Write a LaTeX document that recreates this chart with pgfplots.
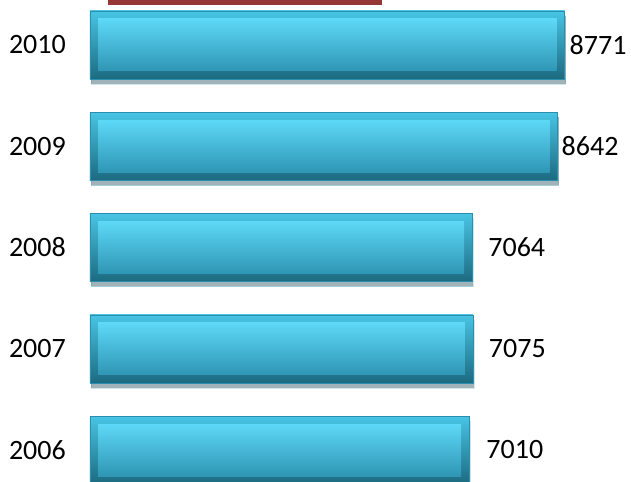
\documentclass[border=0pt]{standalone}
\usepackage{pgfplots}
\pgfplotsset{compat=1.18}
\usepackage{pgfplotstable}
\usepackage{fontspec}
\setmainfont{Carlito}
\usetikzlibrary{shadows}

\definecolor{barEdge}{HTML}{2A8EAE}
\definecolor{bevTop}{HTML}{48C4E4}
\definecolor{bevMid}{HTML}{31A6C8}
\definecolor{bevBot}{HTML}{1C6A80}
\definecolor{faceTop}{HTML}{5DD8F6}
\definecolor{faceMid}{HTML}{3AB2D3}
\definecolor{faceBot}{HTML}{2F96B5}
\definecolor{titleRed}{HTML}{953735}

% year, count
\pgfplotstableread{
y v
0 7010
1 7075
2 7064
3 8642
4 8771
}\counts

\pgfplotsset{
  base/.style={
    scale only axis,
    width=541bp, height=482bp,
    xmin=0, xmax=10000,
    ymin=-0.316, ymax=4.444,
    axis line style={draw=none},
    major tick length=0pt,
    xtick=\empty,
    clip=false,
  },
}
% gap between bar end and its value, as in the original
\tikzset{
  gap0/.style={xshift=17bp},
  gap1/.style={xshift=16bp},
  gap2/.style={xshift=16bp},
  gap3/.style={xshift=4bp},
  gap4/.style={xshift=5bp},
}

\begin{document}
\fontsize{28bp}{32bp}\selectfont
\begin{tikzpicture}
\path[use as bounding box] (-90bp,0) rectangle (541bp,482bp);
% decoration left over from the title bar
\fill[titleRed] (18bp,477bp) rectangle (292bp,482bp);

\begin{axis}[base,
  xbar,
  bar width=68bp,
  ytick={0,1,2,3,4},
  yticklabels={{2006},{2007},{2008},{2009},{2010}},
  yticklabel style={anchor=east, inner sep=0pt, xshift=-24bp},
  nodes near coords,
  point meta=explicit symbolic,
]
% one plot per bar so each gets its own shading
\pgfplotsinvokeforeach{0,...,4}{
\addplot[bar shift=0pt, restrict y to domain=#1:#1,
  draw=barEdge, top color=bevTop, middle color=bevMid, bottom color=bevBot,
  drop shadow={shadow xshift=1bp, shadow yshift=-5bp, opacity=0.22, fill=black},
  nodes near coords style={anchor=west, inner sep=0pt, gap#1}]
  table[x=v, y=y, meta=v] {\counts};
}
\end{axis}

% inner face of each bar (axis shifted so bars start 148 units in)
\begin{axis}[base,
  xmin=-148, xmax=9852,
  xbar,
  bar width=52bp,
  ytick=\empty,
]
\pgfplotsinvokeforeach{0,...,4}{
\addplot[bar shift=0pt, restrict y to domain=#1:#1,
  draw=none, top color=faceTop, middle color=faceMid, bottom color=faceBot]
  table[x expr=\thisrow{v}-296, y=y] {\counts};
}
\end{axis}
\end{tikzpicture}
\end{document}
